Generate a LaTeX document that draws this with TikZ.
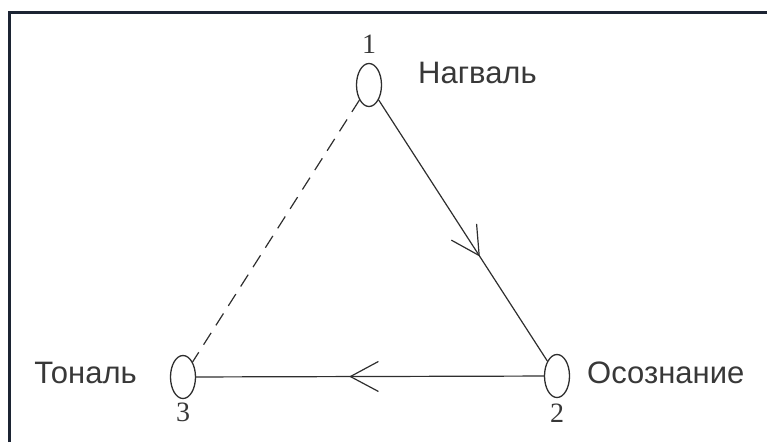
\documentclass[tikz,border=0pt]{standalone}
\usepackage{fontspec}
\setmainfont{Liberation Serif}
\setsansfont{Liberation Sans}
\usepackage{xcolor}
\definecolor{inkgray}{HTML}{2E2E2E}
\definecolor{textgray}{HTML}{383838}
\definecolor{framedark}{HTML}{1C2433}
\usetikzlibrary{shapes.geometric,arrows.meta,positioning,decorations.markings}

\begin{document}
\begin{tikzpicture}[
  x=1pt,y=-1pt,
  oval/.style={ellipse,draw=inkgray,line width=1.3pt,minimum width=25pt,minimum height=43pt,inner sep=0pt},
  lbl/.style={font=\sffamily\fontsize{31}{36}\selectfont,text=textgray,inner sep=0pt},
  num/.style={font=\rmfamily\fontsize{28}{32}\selectfont,text=textgray,inner sep=0pt},
  conn/.style={draw=inkgray,line width=1.2pt},
  midarrow/.style={postaction={decorate},decoration={markings,
    mark=at position #1 with {\arrow{Straight Barb[length=28pt,width=30pt,line width=1.2pt]}}}}
]
\useasboundingbox (0,0) rectangle (767,442);
% frame
\draw[framedark,line width=3pt] (9,442) -- (9,12) -- (767,12);
% points
\node[oval] (n1) at (369,85) {};
\node[oval] (n2) at (557,376) {};
\node[oval] (n3) at (183,377) {};
\node[num,above=9pt of n1] (d1) {1};
\node[num,below=6pt of n2] (d2) {2};
\node[num,below=4pt of n3] (d3) {3};
\node[lbl,anchor=west] (nagval) at (418,73) {Нагваль};
\node[lbl,anchor=west] (osozn) at (587,373) {Осознание};
\node[lbl,anchor=east] (tonal) at (137,373) {Тональ};
% connectors
\draw[conn,midarrow=0.6] (n1) -- (n2);
\draw[conn,midarrow=0.56] (n2) -- (n3);
\draw[conn,dash pattern=on 14pt off 9pt] (n1) -- (n3);
\end{tikzpicture}
\end{document}
